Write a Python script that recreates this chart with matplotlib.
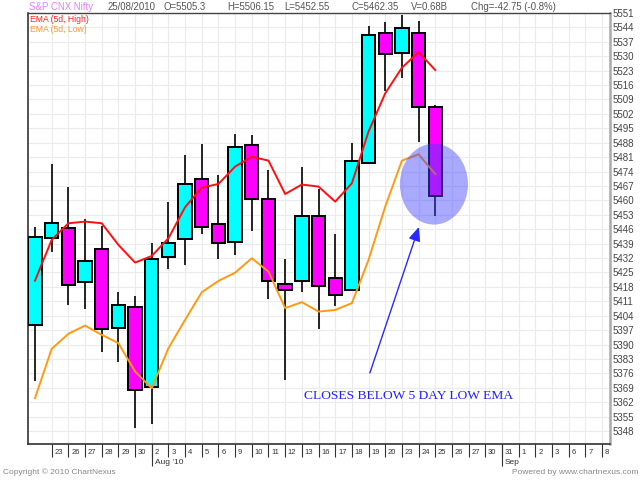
import numpy as np
import matplotlib
matplotlib.use("Agg")
import matplotlib.pyplot as plt
from matplotlib.patches import Ellipse
from matplotlib.transforms import ScaledTranslation

plt.rcParams['font.family'] = ['Liberation Sans', 'DejaVu Sans']

# daily candles, 22 Jul 2010 .. 25 Aug 2010 (S&P CNX Nifty)
day_labels = ["22", "23", "26", "27", "28", "29", "30", "2", "3", "4", "5", "6", "9",
              "10", "11", "12", "13", "16", "17", "18", "19", "20", "23", "24", "25",
              "26", "27", "30", "31", "1", "2", "3", "6", "7", "8"]
month_pos = [7, 28]
month_labels = ["Aug '10", "Sep"]

opens = [5399.5, 5441.9, 5446.5, 5420.3, 5436.4, 5397.9, 5408.4, 5369.6, 5432.7, 5441.4,
         5470.3, 5448.6, 5439.8, 5486.9, 5460.9, 5419.3, 5420.9, 5452.5, 5422.2, 5416.5,
         5478.3, 5541.1, 5531.4, 5541.4, 5505.3]
highs = [5447.3, 5477.7, 5466.4, 5451.1, 5447.6, 5415.7, 5413.6, 5439.2, 5459.4, 5482.1,
         5487.4, 5472.2, 5492.3, 5491.8, 5474.8, 5431.4, 5476.4, 5465.4, 5443.7, 5488.0,
         5544.7, 5546.6, 5550.0, 5547.1, 5506.15]
lows = [5372.4, 5435.1, 5409.3, 5407.3, 5386.3, 5381.7, 5349.4, 5351.5, 5426.7, 5428.7,
        5443.6, 5431.4, 5433.4, 5445.3, 5412.2, 5372.8, 5415.7, 5397.5, 5408.9, 5416.0,
        5478.0, 5513.3, 5519.6, 5488.5, 5452.55]
closes = [5442.4, 5449.2, 5419.1, 5430.6, 5397.6, 5409.3, 5367.7, 5431.7, 5439.5, 5468.0,
          5447.3, 5439.5, 5486.1, 5460.9, 5420.9, 5416.5, 5452.5, 5418.5, 5414.1, 5479.3,
          5540.3, 5531.0, 5543.6, 5505.2, 5462.35]

ema_high = [5421.0, 5440.8, 5448.9, 5449.7, 5448.9, 5438.4, 5429.8, 5433.0, 5441.6, 5456.7,
            5466.2, 5468.0, 5476.4, 5481.2, 5479.3, 5463.1, 5467.7, 5466.7, 5459.4, 5468.3,
            5493.4, 5512.0, 5524.4, 5532.0, 5523.3]
ema_low = [5364.0, 5387.9, 5395.2, 5399.2, 5394.7, 5390.7, 5376.9, 5368.8, 5388.2, 5402.0,
           5415.4, 5420.9, 5424.9, 5431.9, 5425.4, 5407.7, 5410.6, 5406.0, 5406.8, 5410.1,
           5431.1, 5457.0, 5479.3, 5482.4, 5472.8]

y_ticks = np.arange(5348, 5552, 7)

header = ["S&P CNX Nifty", "25/08/2010", "O=5505.3", "H=5506.15", "L=5452.55",
          "C=5462.35", "V=0.68B", "Chg=-42.75 (-0.8%)"]

idx = np.arange(len(closes))
o = np.array(opens)
c = np.array(closes)
up = c > o

fig = plt.figure(figsize=(6.4, 4.8), dpi=100)
ax = fig.add_axes([28 / 640, 1 - 444 / 480, (609.7 - 28) / 640, (444 - 13) / 480])

ax.set_xlim(-0.42, 34.46)
ax.set_ylim(5341.7, 5551)

# grid
ax.set_axisbelow(True)
ax.grid(True, which='major', color='#ebebeb', lw=0.8)

# candles
ax.vlines(idx, lows, highs, color='black', lw=1.2, zorder=2)
ax.bar(idx, np.abs(c - o), bottom=np.minimum(o, c), width=0.8,
       color=np.where(up, '#00ffff', '#ff00ff'), edgecolor='black', lw=1.4, zorder=3)

ax.plot(idx, ema_high, color='#ff1010', lw=1.4, zorder=4)
ax.plot(idx, ema_low, color='#ff9a10', lw=1.4, zorder=4)

# highlight + note
ax.add_patch(Ellipse((23.92, 5467.9), 4.08, 39.3, facecolor='#4040ff', alpha=0.45,
                     edgecolor='none', zorder=5))
ax.annotate('', xy=(23.02, 5447.1), xytext=(20.08, 5376.2),
            arrowprops=dict(arrowstyle='-|>,head_length=0.7,head_width=0.3', color='#2a2aff',
                            lw=1.0, mutation_scale=12, shrinkA=0, shrinkB=0), zorder=6)
ax.text(16.12, 5365, 'CLOSES BELOW 5 DAY LOW EMA', family='Liberation Serif', fontsize=9.7,
        color='#2020ff', va='center', ha='left')

# legend text
fig.text(30 / 640, 1 - 20 / 480, 'EMA (5d, High)', fontsize=6.2, color='#ff2020', va='center')
fig.text(30 / 640, 1 - 29.5 / 480, 'EMA (5d, Low)', fontsize=6.2, color='#ff9933', va='center')

# y axis on the right
ax.yaxis.tick_right()
ax.set_yticks(y_ticks)
ax.tick_params(axis='y', length=0, pad=2, labelsize=7, labelcolor='#444444')

# x axis: day ticks + month ticks
ax.xaxis.remove_overlapping_locs = False
ax.set_xticks(np.arange(1, len(day_labels)), day_labels[1:])
ax.set_xticks(month_pos, month_labels, minor=True)
ax.tick_params(axis='x', which='major', length=9.4, pad=-3.6, labelsize=5.5,
               color='#333333', labelcolor='#333333', width=0.8)
ax.tick_params(axis='x', which='minor', length=15.8, pad=-2.2, labelsize=6,
               color='#333333', labelcolor='#333333', width=0.8)
shift = ScaledTranslation(2 / 72, 0, fig.dpi_scale_trans)
for lab in ax.get_xticklabels() + ax.get_xticklabels(minor=True):
    lab.set_ha('left')
    lab.set_va('center')
    lab.set_transform(lab.get_transform() + shift)

for side in ['left', 'bottom']:
    ax.spines[side].set_color('#222222')
    ax.spines[side].set_linewidth(1.1)
ax.spines['top'].set_color('#444444')
ax.spines['top'].set_linewidth(1.0)
ax.spines['right'].set_color('#aaaaaa')
ax.spines['right'].set_linewidth(1.8)

# header line
header_x = [29, 108, 164, 227, 284, 352, 411, 471]
for i, txt in enumerate(header):
    col = '#e080ff' if i == 0 else '#555555'
    fig.text(header_x[i] / 640, 1 - 6.5 / 480, txt, fontsize=6.9, color=col, va='center')

fig.text(3 / 640, 1 - 472 / 480, 'Copyright \u00a9 2010 ChartNexus', fontsize=6, color='#888888',
         va='center')
fig.text(639 / 640, 1 - 472 / 480, 'Powered by www.chartnexus.com', fontsize=6, color='#888888',
         va='center', ha='right')

fig.savefig('out.png', dpi=100)
